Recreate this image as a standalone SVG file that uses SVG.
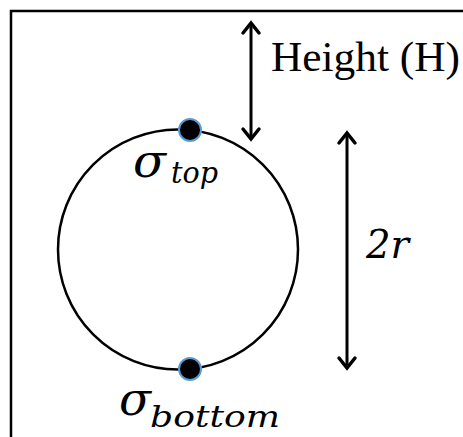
<svg xmlns="http://www.w3.org/2000/svg" width="463" height="437" viewBox="0 0 463 437">
<style>
.ln{stroke:#000;stroke-width:3;fill:none}
.head{stroke:#000;stroke-width:3.5;fill:none;stroke-linecap:round;stroke-linejoin:miter}
.dot{fill:#000;stroke:#5b9bd5;stroke-width:2}
.t{font-family:"Liberation Serif","DejaVu Serif",serif;fill:#000}
.m{font-family:"DejaVu Serif","Liberation Serif",serif;font-style:italic;fill:#000}
</style>
<rect x="11" y="11" width="470" height="450" fill="#fff" stroke="#000" stroke-width="2.5"/>
<g id="sphere">
<circle cx="178" cy="249.5" r="120" fill="none" stroke="#000" stroke-width="2.5"/>
</g>
<g id="top-point">
<circle class="dot" cx="190" cy="130" r="11"/>
<text class="m" x="133" y="177" font-size="46"><tspan textLength="33" lengthAdjust="spacingAndGlyphs">σ</tspan><tspan x="171" y="183" font-size="30" textLength="47" lengthAdjust="spacingAndGlyphs">top</tspan></text>
</g>
<g id="bottom-point">
<circle class="dot" cx="190" cy="369" r="11"/>
<text class="m" x="119" y="415" font-size="46"><tspan textLength="32" lengthAdjust="spacingAndGlyphs">σ</tspan><tspan x="150" y="427" font-size="30" textLength="130" lengthAdjust="spacingAndGlyphs">bottom</tspan></text>
</g>
<g id="height-label">
<text class="t" x="271" y="71" font-size="42" textLength="189" lengthAdjust="spacingAndGlyphs">Height (H)</text>
</g>
<g id="diameter-label">
<text class="m" x="366" y="258" font-size="40" textLength="43" lengthAdjust="spacingAndGlyphs">2r</text>
</g>
<g id="connectors">
<line class="ln" x1="251" y1="25" x2="251" y2="137"/>
<polyline class="head" points="243,33 251,23 259,33"/>
<polyline class="head" points="243,129 251,139 259,129"/>
<line class="ln" x1="347" y1="136" x2="347" y2="365"/>
<polyline class="head" points="339,143 347,133 355,143"/>
<polyline class="head" points="339,358 347,368 355,358"/>
</g>
</svg>
